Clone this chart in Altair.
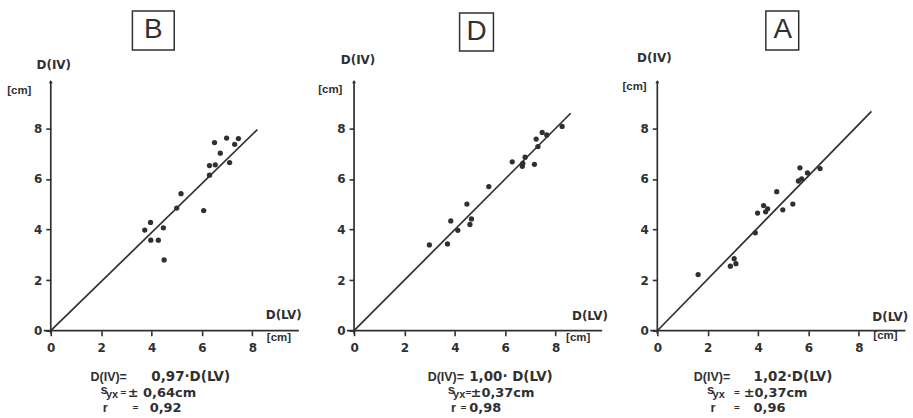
import altair as alt
import pandas as pd

INK = "#303030"
LABEL_FONT = "DejaVu Sans"
NARROW_FONT = "Liberation Sans"

# Panel B: D(LV) vs D(IV), cm
b_lv = [6.50, 6.98, 7.45, 7.30, 6.73, 6.30, 6.53, 7.10, 6.30, 5.17, 5.00, 6.07, 3.96, 3.73, 4.47, 3.97, 4.27, 4.50]
b_iv = [7.44, 7.62, 7.60, 7.37, 7.02, 6.53, 6.56, 6.65, 6.15, 5.42, 4.85, 4.75, 4.28, 3.98, 4.07, 3.58, 3.58, 2.80]

# Panel D
d_lv = [2.99, 3.71, 3.84, 4.12, 4.48, 4.60, 4.66, 5.35, 6.28, 6.68, 6.79, 6.70, 7.16, 7.30, 7.23, 7.47, 7.65, 8.26]
d_iv = [3.39, 3.43, 4.34, 3.97, 5.01, 4.20, 4.42, 5.70, 6.68, 6.50, 6.86, 6.62, 6.58, 7.28, 7.58, 7.84, 7.74, 8.08]

# Panel A
a_lv = [1.62, 2.90, 3.05, 3.12, 3.89, 3.98, 4.22, 4.38, 4.30, 4.74, 4.98, 5.38, 5.60, 5.73, 5.66, 5.96, 6.46]
a_iv = [2.22, 2.55, 2.85, 2.65, 3.87, 4.65, 4.95, 4.82, 4.70, 5.50, 4.78, 5.01, 5.92, 6.00, 6.44, 6.24, 6.41]

panel_names = ["B", "D", "A"]
slopes = [0.97, 1.00, 1.02]
slope_text = ["0,97·D(LV)", "1,00· D(LV)", "1,02·D(LV)"]
syx_text = ["± 0,64cm", "±0,37cm", "±0,37cm"]
r_text = ["0,92", "0,98", "0,96"]
fit_end = [8.2, 8.6, 8.5]
tick_values = [0, 2, 4, 6, 8]

# axis line extents (data units)
X_AXIS_FROM, X_AXIS_TO = -0.28, 9.85
Y_AXIS_FROM, Y_AXIS_TO = -0.12, 9.85

PLOT_W, PLOT_H = 253, 254

# decoration placement in pixels, relative to the panel's plot area
layout = {
    "B": dict(iv=(3, -13), cmy=(-43.7, 13), lv=(234, 238), cmx=(217, 261),
              box=(82, 124, -67, -28), letter=(103, -47.5),
              eq=(40, 101), s=(50, 55.5, 70, 77.3), r=(52.3, 82, 99.3)),
    "D": dict(iv=(4, -18), cmy=(-36, 12), lv=(237, 239), cmx=(213, 261),
              box=(106, 140, -65, -27), letter=(123, -46),
              eq=(74, 115.7), s=(94, 99.5, 112, 117), r=(97.4, 107, 115.7)),
    "A": dict(iv=(-3, -20), cmy=(-35, 9), lv=(234, 240), cmx=(217, 259),
              box=(109, 142, -67, -28), letter=(126, -47.5),
              eq=(36.7, 96.7), s=(50, 55.5, 77, 86.7), r=(53.3, 77, 96.7)),
}

LINE1, LINE2, LINE3 = 300, 317, 332

xscale = alt.Scale(domain=[0, 10], nice=False, zero=False)
yscale = alt.Scale(domain=[0, 10], nice=False, zero=False)

axis_common = dict(
    values=tick_values, title=None, domain=False, grid=False,
    tickSize=5, tickWidth=1.6, tickColor=INK,
    labelFont=LABEL_FONT, labelFontSize=12, labelFontWeight="bold",
    labelColor=INK, labelFlush=False, labelOverlap=False, labelAngle=0,
)
xaxis = alt.Axis(labelPadding=7, **axis_common)
yaxis = alt.Axis(labelPadding=4, **axis_common)


def X(field):
    return alt.X(field, type="quantitative", scale=xscale, axis=xaxis)


def Y(field):
    return alt.Y(field, type="quantitative", scale=yscale, axis=yaxis)


one = pd.DataFrame({"k": [0]})


def label(text, x, y, size=12, weight="bold", align="center", baseline="middle", font=LABEL_FONT):
    return alt.Chart(one).mark_text(
        text=text, font=font, fontSize=size, fontWeight=weight,
        color=INK, align=align, baseline=baseline,
    ).encode(x=alt.value(x), y=alt.value(y))


def panel(i, lv, iv):
    name = panel_names[i]
    L = layout[name]
    pts = pd.DataFrame({"lv": lv, "iv": iv})

    dots = alt.Chart(pts).mark_circle(size=28, color=INK, opacity=1).encode(
        x=X("lv"), y=Y("iv"))

    fit = pd.DataFrame({"lv": [0.0, fit_end[i]]})
    fit["iv"] = slopes[i] * fit["lv"]
    fit_line = alt.Chart(fit).mark_line(color=INK, strokeWidth=1.7).encode(
        x=X("lv"), y=Y("iv"))

    x_line = alt.Chart(pd.DataFrame({"lv": [X_AXIS_FROM], "lv2": [X_AXIS_TO], "iv": [0.0]})).mark_rule(
        color=INK, strokeWidth=1.7).encode(x=X("lv"), x2="lv2", y=Y("iv"))
    y_line = alt.Chart(pd.DataFrame({"lv": [0.0], "iv": [Y_AXIS_FROM], "iv2": [Y_AXIS_TO]})).mark_rule(
        color=INK, strokeWidth=1.7).encode(x=X("lv"), y=Y("iv"), y2="iv2")
    arrow = alt.Chart(pd.DataFrame({"lv": [0.0], "iv": [Y_AXIS_TO]})).mark_point(
        shape="triangle-up", filled=True, size=16, color=INK, opacity=1).encode(x=X("lv"), y=Y("iv"))

    bx0, bx1, by0, by1 = L["box"]
    box = alt.Chart(one).mark_rect(filled=False, stroke=INK, strokeWidth=1.5, fillOpacity=0).encode(
        x=alt.value(bx0), x2=alt.value(bx1), y=alt.value(by0), y2=alt.value(by1))
    letter = label(name, L["letter"][0], L["letter"][1], size=28, weight="normal", font=NARROW_FONT)

    texts = [
        label("D(IV)", *L["iv"]),
        label("[cm]", *L["cmy"], size=11.5, align="left", font=NARROW_FONT),
        label("D(LV)", *L["lv"]),
        label("[cm]", *L["cmx"], size=11.5, align="left", font=NARROW_FONT),
        label("D(IV)=", L["eq"][0], LINE1, size=12.5, align="left", font=NARROW_FONT),
        label(slope_text[i], L["eq"][1], LINE1, size=13.5, align="left"),
        label("s", L["s"][0], LINE2 - 3, size=13, align="left", font=NARROW_FONT),
        label("yx", L["s"][1], LINE2 + 2, size=11, align="left", font=NARROW_FONT),
        label("=", L["s"][2], LINE2, size=10, align="left", font=NARROW_FONT),
        label(syx_text[i], L["s"][3], LINE2, size=13, align="left"),
        label("r", L["r"][0], LINE3, size=13, align="left", font=NARROW_FONT),
        label("=", L["r"][1], LINE3, size=10, align="left", font=NARROW_FONT),
        label(r_text[i], L["r"][2], LINE3, size=13, align="left"),
    ]

    return alt.layer(dots, fit_line, x_line, y_line, arrow, box, letter, *texts).properties(
        width=PLOT_W, height=PLOT_H)


chart = alt.hconcat(
    panel(0, b_lv, b_iv),
    panel(1, d_lv, d_iv),
    panel(2, a_lv, a_iv),
    spacing=51.6,
    bounds="flush",
).properties(
    padding={"left": 7, "top": 9.25, "right": 3, "bottom": 3},
    background="white",
).configure_view(stroke=None)

chart.save("out.html", embed_options={"renderer": "svg", "actions": False})
